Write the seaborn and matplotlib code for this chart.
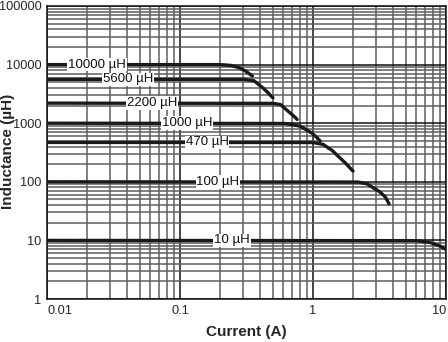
import numpy as np
import pandas as pd
import matplotlib
matplotlib.use("Agg")
import matplotlib.pyplot as plt
from matplotlib.ticker import LogLocator, FixedLocator, NullFormatter
import seaborn as sns

# Inductance vs. DC current for each rated value
labels = ["10000 µH", "5600 µH", "2200 µH", "1000 µH", "470 µH", "100 µH", "10 µH"]

current_10000 = [0.01, 0.20, 0.24, 0.28, 0.31, 0.35]
induct_10000 = [10000, 10000, 9700, 8800, 7800, 6400]

current_5600 = [0.01, 0.30, 0.36, 0.42, 0.46, 0.50]
induct_5600 = [5600, 5600, 5300, 4000, 3300, 2700]

current_2200 = [0.01, 0.50, 0.57, 0.65, 0.71, 0.76]
induct_2200 = [2200, 2180, 2080, 1600, 1350, 1160]

current_1000 = [0.01, 0.62, 0.80, 0.98, 1.06, 1.13]
induct_1000 = [1000, 990, 890, 680, 580, 500]

current_470 = [0.01, 1.00, 1.19, 1.40, 1.54, 1.75, 2.00]
induct_470 = [470, 468, 435, 340, 275, 210, 152]

current_100 = [0.01, 2.20, 2.55, 3.19, 3.50, 3.73]
induct_100 = [100, 99, 92, 67, 55, 42]

current_10 = [0.01, 6.0, 7.6, 9.0, 10.0]
induct_10 = [10, 9.9, 9.2, 8.0, 7.0]

# where each value label sits along its curve (A)
label_current = [0.0238, 0.0406, 0.0616, 0.113, 0.160, 0.193, 0.246]
label_induct = [10000, 5600, 2200, 1000, 470, 100, 10]

x_ticks = [0.01, 0.1, 1, 10]
x_tick_labels = ["0.01", "0.1", "1", "10"]
y_ticks = [1, 10, 100, 1000, 10000, 100000]
y_tick_labels = ["1", "10", "100", "1000", "10000", "100000"]

currents = [current_10000, current_5600, current_2200, current_1000,
            current_470, current_100, current_10]
inducts = [induct_10000, induct_5600, induct_2200, induct_1000,
           induct_470, induct_100, induct_10]

frames = []
for lab, c, l in zip(labels, currents, inducts):
    frames.append(pd.DataFrame({"current": c, "inductance": l, "part": lab}))
df = pd.concat(frames, ignore_index=True)

sns.set_style("white")
plt.rcParams["font.family"] = ["Liberation Sans", "DejaVu Sans"]

fig, ax = plt.subplots(figsize=(4.48, 3.42), dpi=100)
fig.subplots_adjust(left=47 / 448, right=446 / 448, top=1 - 6 / 342, bottom=1 - 299 / 342)

ax.set_xscale("log")
ax.set_yscale("log")
ax.set_xlim(0.01, 10)
ax.set_ylim(1, 100000)

# grid: gray minor lines, black decade lines
ax.xaxis.set_minor_locator(LogLocator(base=10, subs=np.arange(2, 10)))
ax.yaxis.set_minor_locator(LogLocator(base=10, subs=np.arange(2, 10)))
ax.xaxis.set_minor_formatter(NullFormatter())
ax.yaxis.set_minor_formatter(NullFormatter())
ax.grid(which="minor", color="#5e5e5e", linewidth=1.1)
ax.grid(which="major", color="#111111", linewidth=1.1)
ax.set_axisbelow(True)

sns.lineplot(data=df, x="current", y="inductance", units="part", estimator=None,
             color="#1a1a1a", linewidth=2.4, ax=ax, sort=False, legend=False, zorder=3)

for lab, xc, yc in zip(labels, label_current, label_induct):
    ax.text(xc, yc, lab, ha="center", va="center", fontsize=9.5, color="#111111",
            zorder=4, bbox=dict(facecolor="white", edgecolor="none", pad=0.6))

ax.xaxis.set_major_locator(FixedLocator(x_ticks))
ax.yaxis.set_major_locator(FixedLocator(y_ticks))
ax.set_xticklabels(x_tick_labels, fontsize=9.2)
ax.set_yticklabels(y_tick_labels, fontsize=9.2)
xt = ax.get_xticklabels()
xt[0].set_ha("left")
xt[-1].set_ha("right")
ax.tick_params(which="both", length=0, pad=4)

ax.set_xlabel("Current (A)", fontsize=11, fontweight="bold", labelpad=6)
ax.set_ylabel("Inductance (µH)", fontsize=11, fontweight="bold")
ax.yaxis.set_label_coords(-0.081, 0.505)

for s in ax.spines.values():
    s.set_color("#111111")
    s.set_linewidth(1.1)

fig.savefig("out.png", dpi=100)
